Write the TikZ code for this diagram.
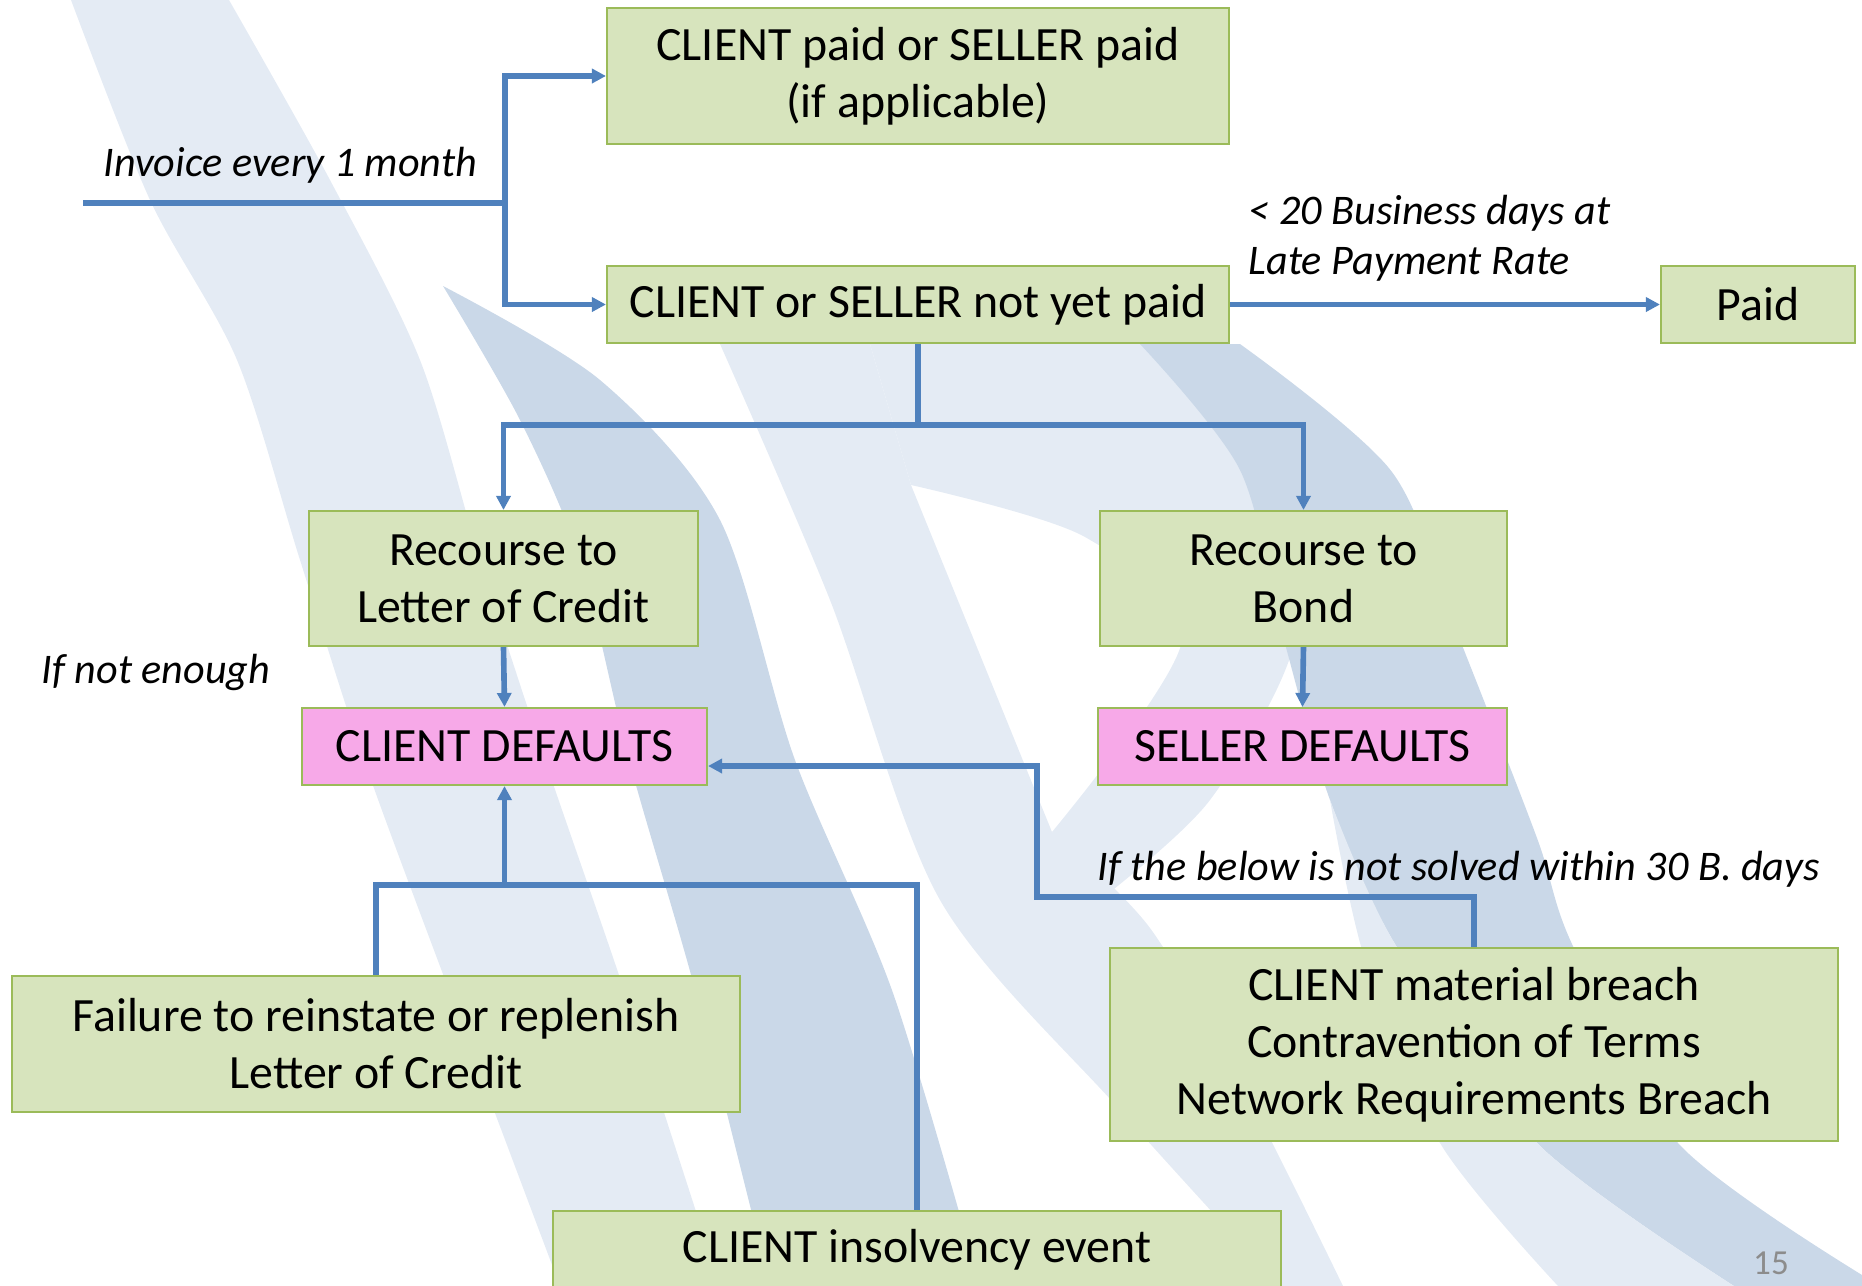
\documentclass[tikz,border=0pt]{standalone}
\usepackage{fontspec}
\setmainfont{Carlito}
\usetikzlibrary{arrows.meta}

\definecolor{flowblue}{HTML}{4F81BD}
\definecolor{boxgreen}{HTML}{D7E4BD}
\definecolor{boxline}{HTML}{9BBB59}
\definecolor{defpink}{HTML}{F7A9E8}
\definecolor{swlight}{HTML}{E4EBF4}
\definecolor{swdark}{HTML}{CAD8E8}

\tikzset{
  box/.style={draw=boxline, fill=boxgreen, line width=0.6pt, align=center,
    inner sep=0pt, font=\fontsize{13.6}{16.2}\selectfont},
  defbox/.style={box, fill=defpink},
  flow/.style={draw=flowblue, line width=1.6pt},
  flowto/.style={flow, -{Triangle[length=1.4mm,width=1.4mm]}},
  lbl/.style={font=\fontsize{12}{14.2}\selectfont\itshape, inner sep=0pt, align=left},
}

\begin{document}
\begin{tikzpicture}[x=0.1mm, y=-0.1mm]
\useasboundingbox (0,0) rectangle (1862,1286);

% background swoosh
\begin{scope}
\clip (0,0) rectangle (1862,1286);
\fill [swlight] plot[smooth] coordinates {(71,0) (150,200) (237,360) (300,560) (364,760) (450,993) (560,1286)}
  -- plot[smooth] coordinates {(720,1286) (625,993) (545,760) (480,560) (420,360) (330,180) (229,0)} -- cycle;
\fill [swdark] plot[smooth] coordinates {(443,286) (520,420) (580,560) (629,760) (696,993) (770,1286)}
  -- plot[smooth] coordinates {(980,1286) (893,993) (795,760) (720,520) (600,380) (443,286)} -- cycle;
% left leg of the D
\fill [swlight] plot[smooth] coordinates {(720,344) (830,600) (940,900) (1120,1110) (1280,1286)}
  -- plot[smooth] coordinates {(1343,1286) (1250,1100) (1150,928) (1052,832)} -- (911,485) -- (870,344) -- cycle;
% arc of the D
\fill [swlight] (870,344) -- plot[smooth] coordinates {(1182,344) (1280,470) (1295,640) (1210,800) (1100,900)}
  -- (1052,832) -- plot[smooth] coordinates {(1052,832) (1182,640) (1085,537) (911,485)} -- cycle;
\fill [swdark] plot[smooth] coordinates {(1140,344) (1240,470) (1284,640) (1330,800) (1395,944) (1537,1143) (1734,1286)}
  -- plot[smooth] coordinates {(1880,1286) (1678,1143) (1572,944) (1537,838) (1460,640) (1392,472) (1240,344)} -- cycle;
\fill [swlight] plot[smooth] coordinates {(1330,800) (1395,944) (1537,1143) (1734,1286)}
  -- plot[smooth] coordinates {(1558,1286) (1440,1143) (1365,960) (1330,800)} -- cycle;
\end{scope}

\node[box, minimum width=62.2mm, minimum height=13.6mm] (paidok) at (918,76) {CLIENT paid or SELLER paid\\(if applicable)};
\node[box, minimum width=62.2mm, minimum height=7.7mm] (notpaid) at (918,304.5) {CLIENT or SELLER not yet paid};
\node[box, minimum width=19.4mm, minimum height=7.7mm] (paid) at (1758,304.5) {Paid};
\node[box, minimum width=38.9mm, minimum height=13.5mm] (reclc) at (503.5,578.5) {Recourse to\\Letter of Credit};
\node[box, minimum width=40.7mm, minimum height=13.5mm] (recbond) at (1303.5,578.5) {Recourse to\\Bond};
\node[defbox, minimum width=40.5mm, minimum height=7.7mm] (clientdef) at (504.5,746.5) {CLIENT DEFAULTS};
\node[defbox, minimum width=40.9mm, minimum height=7.7mm] (sellerdef) at (1302.5,746.5) {SELLER DEFAULTS};
\node[box, minimum width=72.8mm, minimum height=13.6mm] (failure) at (376,1044) {Failure to reinstate or replenish\\Letter of Credit};
\node[box, minimum width=72.8mm, minimum height=19.3mm] (breach) at (1474,1044.5) {CLIENT material breach\\Contravention of Terms\\Network Requirements Breach};
\node[box, minimum width=72.8mm, minimum height=7.7mm] (insolv) at (917,1249.5) {CLIENT insolvency event};

\coordinate (invstart) at (83,203);
\coordinate (invsplit) at (505,203);
\coordinate (split) at (918,425);
\coordinate (merge) at (504.5,886);
\coordinate (bend) at (1037,766);

\draw [flow] (invstart) -- (invsplit);
\draw [flowto] (invsplit) |- (paidok.west);
\draw [flowto] (invsplit) |- (notpaid.west);
\draw [flowto] (notpaid.east) -- (paid.west);
\draw [flow] (notpaid.south) -- (split);
\draw [flowto] (split) -| (reclc.north);
\draw [flowto] (split) -| (recbond.north);
\draw [flowto] (reclc.south) -- (clientdef.north);
\draw [flowto] (recbond.south) -- (sellerdef.north);
\draw [flow] (failure.north) -- ++(0,-90) -| (insolv.north);
\draw [flowto] (merge) -- (clientdef.south);
\draw [flowto] (breach.north) -- ++(0,-50) -| (bend) -- (bend -| clientdef.east);

\node[lbl, anchor=base west] (invlbl) at (103,176) {Invoice every 1 month};
\node[lbl, anchor=west] (latelbl) at (1248,238) {< 20 Business days at\\Late Payment Rate};
\node[lbl, anchor=base west] (enoughlbl) at (41,683) {If not enough};
\node[lbl, anchor=base west] (solvelbl) at (1097,880) {If the below is not solved within 30 B. days};
\node[font=\fontsize{10}{12}\selectfont, text=black!45, inner sep=0pt] (pagenum) at (1771,1263) {15};

\end{tikzpicture}
\end{document}
